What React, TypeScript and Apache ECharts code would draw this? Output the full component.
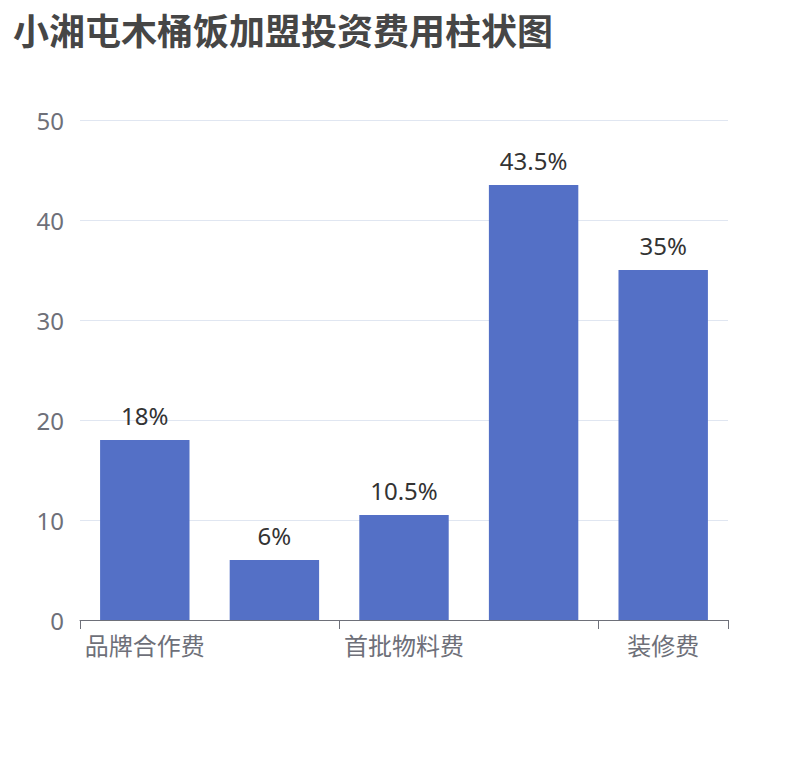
import React, { useEffect, useRef } from "react";
import * as echarts from "echarts";

const titleText = "小湘屯木桶饭加盟投资费用柱状图";
const categories = ["品牌合作费", "保证金", "首批物料费", "设备费", "装修费"];
const values = [18, 6, 10.5, 43.5, 35];
const yMax = 50;
const yInterval = 10;

const App = () => {
    const chartRef = useRef<HTMLDivElement>(null);

    useEffect(() => {
        const chart = echarts.init(chartRef.current, null, { renderer: "svg" });

        const option = {
            animation: false,
            textStyle: { fontFamily: "'Noto Sans', 'Noto Sans CJK SC', sans-serif" },
            title: {
                text: titleText,
                left: 0,
                top: 0,
                textStyle: { fontSize: 36, fontWeight: "bold", color: "#464646" },
            },
            grid: { left: 72, right: 74, top: 112, bottom: 132 },
            xAxis: {
                type: "category",
                data: categories,
                axisLabel: { fontSize: 24, color: "#6E7079", interval: 1, margin: 13 },
                axisTick: { show: true, interval: 1, length: 9 },
                axisLine: { lineStyle: { color: "#6E7079" } },
            },
            yAxis: {
                type: "value",
                min: 0,
                max: yMax,
                interval: yInterval,
                axisLabel: { fontSize: 24, color: "#6E7079", margin: 16 },
                splitLine: { lineStyle: { color: "#E0E6F1" } },
            },
            series: [
                {
                    type: "bar",
                    data: values,
                    barCategoryGap: "31%",
                    itemStyle: { color: "#5470c6" },
                    label: {
                        show: true,
                        position: "top",
                        distance: 13,
                        fontSize: 24,
                        color: "#333",
                        formatter: (p: any) => `${p.value}%`,
                    },
                },
            ],
        };

        chart.setOption(option);
        return () => chart.dispose();
    }, []);

    return <div ref={chartRef} style={{ width: 794, height: 744 }} />;
};

export default App;
